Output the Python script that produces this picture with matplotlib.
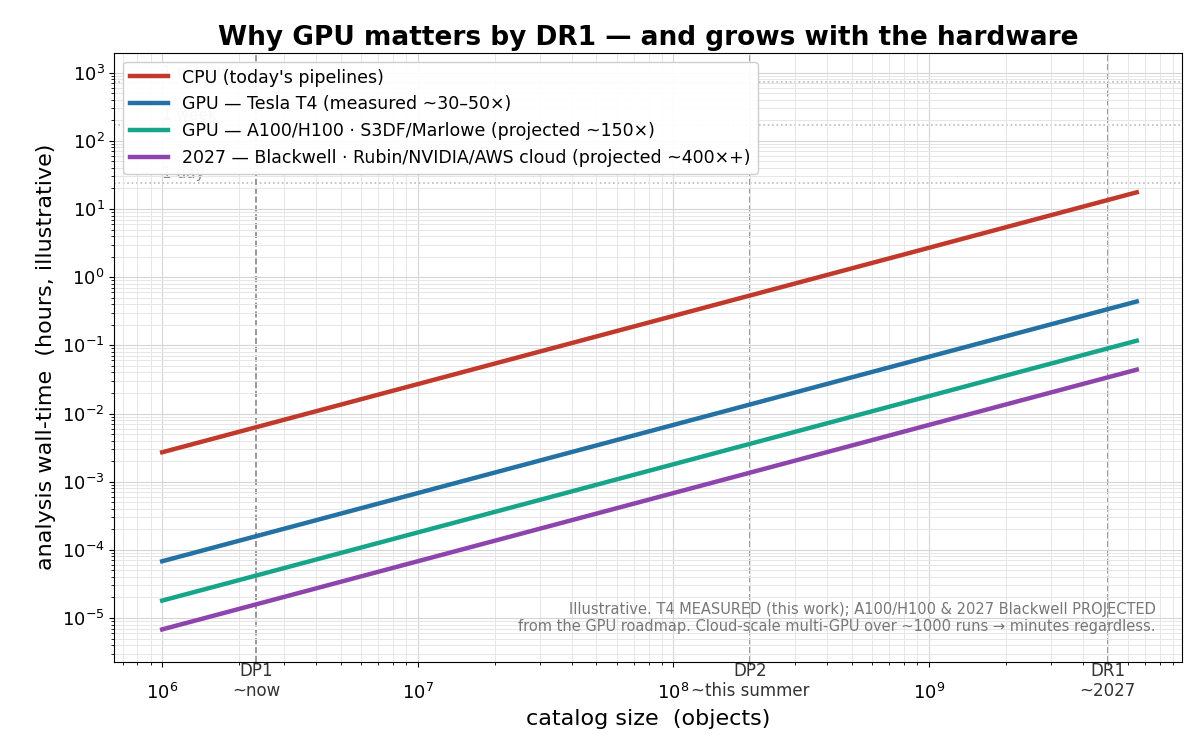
import matplotlib
matplotlib.use("Agg")
import matplotlib.pyplot as plt

# catalog sizes and illustrative wall-time (hours)
sizes = [1e6, 1e7, 1e8, 1e9, 6.5e9]
cpu_hours = [2.7e-3, 2.7e-2, 0.27, 2.7, 17.6]
t4_hours = [6.8e-5, 6.8e-4, 6.8e-3, 6.8e-2, 0.44]
a100_hours = [1.8e-5, 1.8e-4, 1.8e-3, 1.8e-2, 0.117]
bw_hours = [6.8e-6, 6.8e-5, 6.8e-4, 6.8e-3, 0.044]

series_labels = [
    "CPU (today's pipelines)",
    "GPU — Tesla T4 (measured ~30–50×)",
    "GPU — A100/H100 · S3DF/Marlowe (projected ~150×)",
    "2027 — Blackwell · Rubin/NVIDIA/AWS cloud (projected ~400×+)",
]
colors = ["#c0392b", "#2471a3", "#17a589", "#8e44ad"]

milestone_x = [2.33e6, 2.0e8, 5.0e9]
milestone_labels = ["DP1\n~now", "DP2\n~this summer", "DR1\n~2027"]

ref_hours = [24, 168, 720]
ref_labels = ["1 day", "1 week", "1 month"]

fig, ax = plt.subplots(figsize=(12.04, 7.56), dpi=100)

for ys, lab, c in zip([cpu_hours, t4_hours, a100_hours, bw_hours], series_labels, colors):
    ax.plot(sizes, ys, color=c, lw=3.2, label=lab, zorder=3)

ax.set_xscale("log")
ax.set_yscale("log")
ax.set_xlim(6.5e5, 9.8e9)
ax.set_ylim(2.3e-6, 1.95e3)

for h, lab in zip(ref_hours, ref_labels):
    ax.axhline(h, color="#bbbbbb", ls=":", lw=1.2, zorder=1)
    ax.text(1.0e6, h * 1.08, lab, va="bottom", ha="left", fontsize=11, color="#888888", zorder=1)

for mx, lab in zip(milestone_x, milestone_labels):
    ax.axvline(mx, color="#888888", ls="--", lw=1.2, zorder=1)
    ax.text(mx, -0.0, lab, transform=ax.get_xaxis_transform(), ha="center", va="top",
            fontsize=12, color="#333333")

ax.grid(True, which="major", color="#d5d5d5", lw=0.8)
ax.grid(True, which="minor", color="#e6e6e6", lw=0.7)
ax.tick_params(labelsize=13)
ax.tick_params(axis="x", pad=12)

ax.set_xlabel("catalog size  (objects)", fontsize=16)
ax.set_ylabel("analysis wall-time  (hours, illustrative)", fontsize=16)
ax.set_title("Why GPU matters by DR1 — and grows with the hardware", fontsize=19, weight="bold")

leg = ax.legend(loc="upper left", fontsize=12.5, framealpha=0.95, handlelength=2.2)
leg.set_zorder(5)

ax.text(0.975, 0.045,
        "Illustrative. T4 MEASURED (this work); A100/H100 & 2027 Blackwell PROJECTED\n"
        "from the GPU roadmap. Cloud-scale multi-GPU over ~1000 runs → minutes regardless.",
        transform=ax.transAxes, ha="right", va="bottom", fontsize=10.5, color="#777777")

fig.subplots_adjust(left=0.095, right=0.982, top=0.93, bottom=0.125)
fig.savefig("out.png", dpi=100)
